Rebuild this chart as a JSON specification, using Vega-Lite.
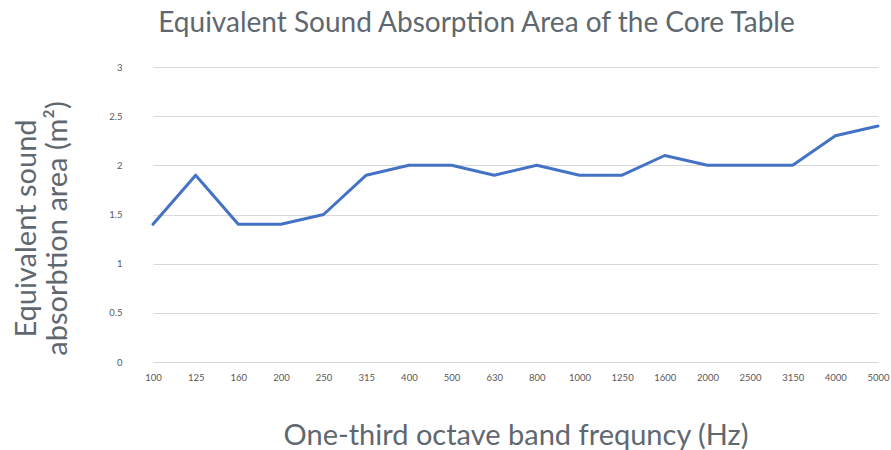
{
  "$schema": "https://vega.github.io/schema/vega-lite/v6.json",
  "autosize": "none",
  "width": 759,
  "height": 295,
  "padding": {"left": 132, "top": 67, "right": 0, "bottom": 88},
  "background": "white",
  "title": {
    "text": "Equivalent Sound Absorption Area of the Core Table",
    "font": "Lato",
    "fontSize": 28,
    "fontWeight": 400,
    "color": "#5f6870",
    "anchor": "middle",
    "dx": -35,
    "offset": 24
  },
  "data": {
    "values": [
      {"freq": "100", "area": 1.4},
      {"freq": "125", "area": 1.9},
      {"freq": "160", "area": 1.4},
      {"freq": "200", "area": 1.4},
      {"freq": "250", "area": 1.5},
      {"freq": "315", "area": 1.9},
      {"freq": "400", "area": 2.0},
      {"freq": "500", "area": 2.0},
      {"freq": "630", "area": 1.9},
      {"freq": "800", "area": 2.0},
      {"freq": "1000", "area": 1.9},
      {"freq": "1250", "area": 1.9},
      {"freq": "1600", "area": 2.1},
      {"freq": "2000", "area": 2.0},
      {"freq": "2500", "area": 2.0},
      {"freq": "3150", "area": 2.0},
      {"freq": "4000", "area": 2.3},
      {"freq": "5000", "area": 2.4}
    ]
  },
  "mark": {"type": "line", "color": "#4472C4", "strokeWidth": 3, "strokeCap": "round", "strokeJoin": "round"},
  "encoding": {
    "x": {
      "field": "freq",
      "type": "ordinal",
      "sort": null,
      "scale": {"type": "point", "range": [21, 746], "padding": 0},
      "axis": {
        "title": "One-third octave band frequncy (Hz)",
        "labelAngle": 0,
        "labelFont": "Lato",
        "labelFontSize": 9.5,
        "labelColor": "#595959",
        "labelPadding": 10,
        "ticks": false,
        "domain": false,
        "grid": false,
        "titleFont": "Lato",
        "titleFontSize": 29,
        "titleFontWeight": 400,
        "titleColor": "#5f6870",
        "titlePadding": 40
      }
    },
    "y": {
      "field": "area",
      "type": "quantitative",
      "scale": {"domain": [0, 3], "nice": false},
      "axis": {
        "title": ["Equivalent sound", "absorbtion area (m²)"],
        "values": [0, 0.5, 1, 1.5, 2, 2.5, 3],
        "format": "~g",
        "labelFont": "Lato",
        "labelFontSize": 9.5,
        "labelColor": "#595959",
        "labelPadding": 10,
        "ticks": false,
        "domain": false,
        "gridColor": "#d9d9d9",
        "titleFont": "Lato",
        "titleFontSize": 29,
        "titleFontWeight": 400,
        "titleColor": "#5f6870",
        "titleLineHeight": 31,
        "titlePadding": 36,
        "titleY": 161
      }
    }
  },
  "config": {"view": {"stroke": null}}
}
